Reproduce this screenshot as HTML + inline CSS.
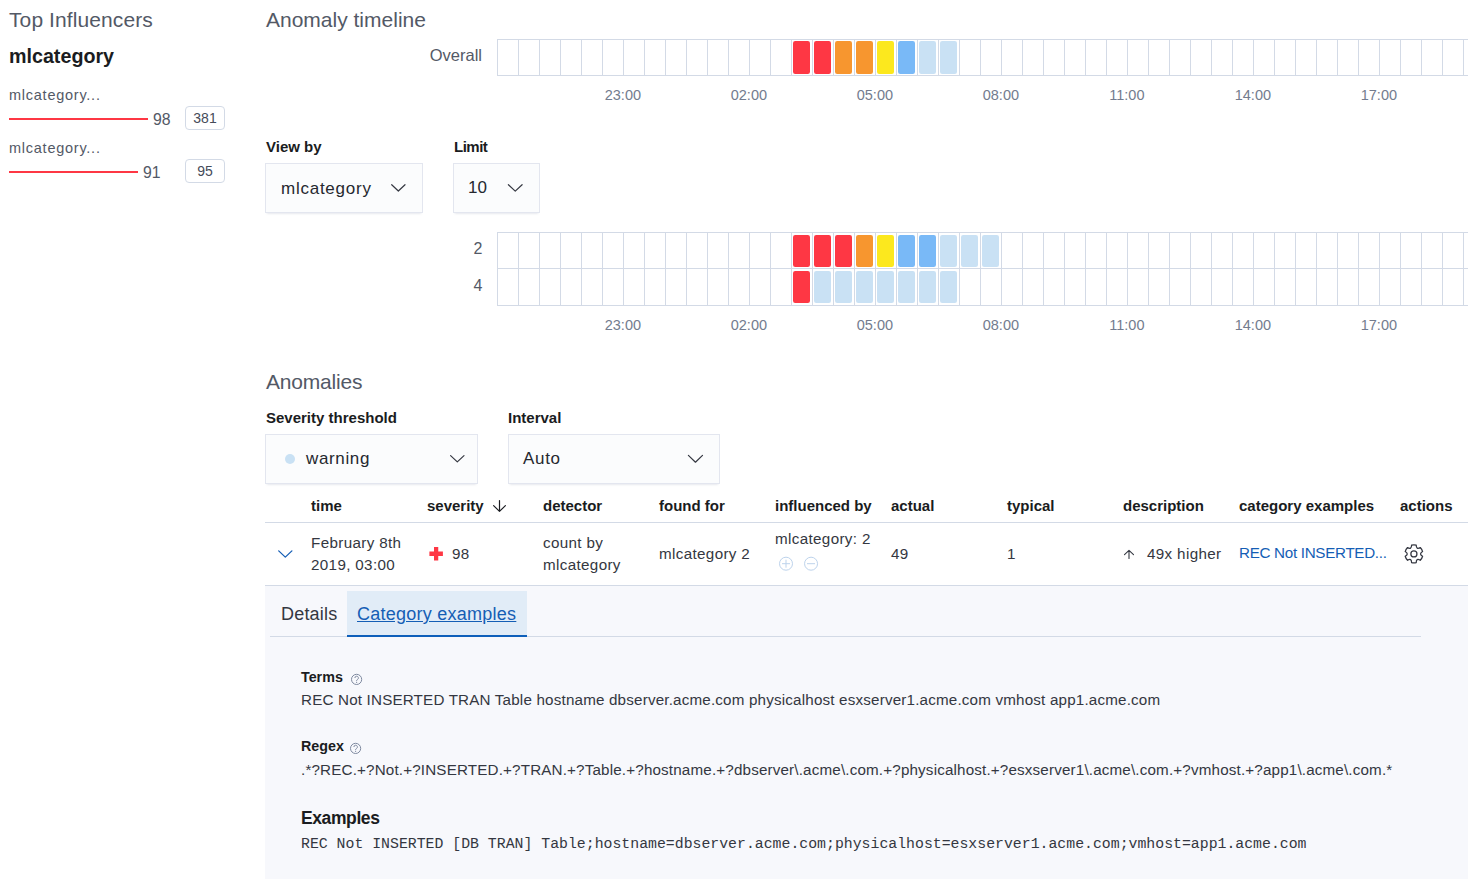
<!DOCTYPE html>
<html><head><meta charset="utf-8">
<style>
*{box-sizing:border-box;margin:0;padding:0}
html,body{width:1468px;height:879px;overflow:hidden;background:#fff}
body{position:relative;font-family:"Liberation Sans",Arial,sans-serif;color:#343741;font-size:14px;line-height:1}
.a{position:absolute;white-space:nowrap}
.title{font-size:21px;color:#535966;font-weight:400}
.bold{font-weight:700;color:#1a1c21}
.lbl{font-size:15px;font-weight:700;color:#1a1c21}
.axis{font-size:14.5px;color:#737C8E}
.sel{position:absolute;background:#FBFCFD;box-shadow:0 1px 1px -1px rgba(152,162,179,.2),0 3px 2px -2px rgba(152,162,179,.2),inset 0 0 0 1px rgba(15,39,118,.1);font-size:17px;color:#25282F}
.sel span{position:absolute}
.chev{position:absolute}
.badge{position:absolute;border:1px solid #D3DAE6;border-radius:4px;background:#fff;font-size:14px;text-align:center;color:#454B59}
.th{position:absolute;top:498px;font-weight:700;color:#1a1c21;font-size:15px}
.td{position:absolute;font-size:15.2px;color:#343741;line-height:22px;letter-spacing:.35px}
</style></head><body>
<!-- left panel -->
<div class="a title" style="left:9px;top:9px;letter-spacing:.1px">Top Influencers</div>
<div class="a bold" style="left:9px;top:47px;font-size:19.7px">mlcategory</div>
<div class="a" style="left:9px;top:88px;font-size:14.5px;letter-spacing:.75px;color:#535966">mlcategory...</div>
<div class="a" style="left:9px;top:118px;width:139px;height:2px;background:#FE3744"></div>
<div class="a" style="left:153px;top:112px;font-size:15.8px;color:#535966">98</div>
<div class="badge" style="left:185px;top:106px;width:40px;height:24px;line-height:22px">381</div>
<div class="a" style="left:9px;top:141px;font-size:14.5px;letter-spacing:.75px;color:#535966">mlcategory...</div>
<div class="a" style="left:9px;top:171px;width:129px;height:2px;background:#FE3744"></div>
<div class="a" style="left:143px;top:165px;font-size:15.8px;color:#535966">91</div>
<div class="badge" style="left:185px;top:159px;width:40px;height:24px;line-height:22px">95</div>

<!-- anomaly timeline -->
<div class="a title" style="left:266px;top:9px">Anomaly timeline</div>
<div class="a" style="right:986px;top:47px;font-size:16.5px;color:#535966">Overall</div>
<svg class="hm" style="position:absolute;left:497px;top:39px" width="971" height="37" viewBox="497 39 971 37">
<rect x="793.0" y="41" width="17" height="33" rx="2.2" fill="#FE3744"/>
<rect x="814.0" y="41" width="17" height="33" rx="2.2" fill="#FE3744"/>
<rect x="835.0" y="41" width="17" height="33" rx="2.2" fill="#F7962F"/>
<rect x="856.0" y="41" width="17" height="33" rx="2.2" fill="#F7962F"/>
<rect x="877.0" y="41" width="17" height="33" rx="2.2" fill="#FCE81E"/>
<rect x="898.0" y="41" width="17" height="33" rx="2.2" fill="#79B9F7"/>
<rect x="919.0" y="41" width="17" height="33" rx="2.2" fill="#C9E1F4"/>
<rect x="940.0" y="41" width="17" height="33" rx="2.2" fill="#C9E1F4"/>
<line x1="497" x2="1468" y1="39.5" y2="39.5" stroke="#D3DAE6"/>
<line x1="497" x2="1468" y1="75.5" y2="75.5" stroke="#D3DAE6"/>
<line x1="497.5" x2="497.5" y1="39.5" y2="75.5" stroke="#D3DAE6"/>
<line x1="518.5" x2="518.5" y1="39.5" y2="75.5" stroke="#D3DAE6"/>
<line x1="539.5" x2="539.5" y1="39.5" y2="75.5" stroke="#D3DAE6"/>
<line x1="560.5" x2="560.5" y1="39.5" y2="75.5" stroke="#D3DAE6"/>
<line x1="581.5" x2="581.5" y1="39.5" y2="75.5" stroke="#D3DAE6"/>
<line x1="602.5" x2="602.5" y1="39.5" y2="75.5" stroke="#D3DAE6"/>
<line x1="623.5" x2="623.5" y1="39.5" y2="75.5" stroke="#D3DAE6"/>
<line x1="644.5" x2="644.5" y1="39.5" y2="75.5" stroke="#D3DAE6"/>
<line x1="665.5" x2="665.5" y1="39.5" y2="75.5" stroke="#D3DAE6"/>
<line x1="686.5" x2="686.5" y1="39.5" y2="75.5" stroke="#D3DAE6"/>
<line x1="707.5" x2="707.5" y1="39.5" y2="75.5" stroke="#D3DAE6"/>
<line x1="728.5" x2="728.5" y1="39.5" y2="75.5" stroke="#D3DAE6"/>
<line x1="749.5" x2="749.5" y1="39.5" y2="75.5" stroke="#D3DAE6"/>
<line x1="770.5" x2="770.5" y1="39.5" y2="75.5" stroke="#D3DAE6"/>
<line x1="791.5" x2="791.5" y1="39.5" y2="75.5" stroke="#D3DAE6"/>
<line x1="812.5" x2="812.5" y1="39.5" y2="75.5" stroke="#D3DAE6"/>
<line x1="833.5" x2="833.5" y1="39.5" y2="75.5" stroke="#D3DAE6"/>
<line x1="854.5" x2="854.5" y1="39.5" y2="75.5" stroke="#D3DAE6"/>
<line x1="875.5" x2="875.5" y1="39.5" y2="75.5" stroke="#D3DAE6"/>
<line x1="896.5" x2="896.5" y1="39.5" y2="75.5" stroke="#D3DAE6"/>
<line x1="917.5" x2="917.5" y1="39.5" y2="75.5" stroke="#D3DAE6"/>
<line x1="938.5" x2="938.5" y1="39.5" y2="75.5" stroke="#D3DAE6"/>
<line x1="959.5" x2="959.5" y1="39.5" y2="75.5" stroke="#D3DAE6"/>
<line x1="980.5" x2="980.5" y1="39.5" y2="75.5" stroke="#D3DAE6"/>
<line x1="1001.5" x2="1001.5" y1="39.5" y2="75.5" stroke="#D3DAE6"/>
<line x1="1022.5" x2="1022.5" y1="39.5" y2="75.5" stroke="#D3DAE6"/>
<line x1="1043.5" x2="1043.5" y1="39.5" y2="75.5" stroke="#D3DAE6"/>
<line x1="1064.5" x2="1064.5" y1="39.5" y2="75.5" stroke="#D3DAE6"/>
<line x1="1085.5" x2="1085.5" y1="39.5" y2="75.5" stroke="#D3DAE6"/>
<line x1="1106.5" x2="1106.5" y1="39.5" y2="75.5" stroke="#D3DAE6"/>
<line x1="1127.5" x2="1127.5" y1="39.5" y2="75.5" stroke="#D3DAE6"/>
<line x1="1148.5" x2="1148.5" y1="39.5" y2="75.5" stroke="#D3DAE6"/>
<line x1="1169.5" x2="1169.5" y1="39.5" y2="75.5" stroke="#D3DAE6"/>
<line x1="1190.5" x2="1190.5" y1="39.5" y2="75.5" stroke="#D3DAE6"/>
<line x1="1211.5" x2="1211.5" y1="39.5" y2="75.5" stroke="#D3DAE6"/>
<line x1="1232.5" x2="1232.5" y1="39.5" y2="75.5" stroke="#D3DAE6"/>
<line x1="1253.5" x2="1253.5" y1="39.5" y2="75.5" stroke="#D3DAE6"/>
<line x1="1274.5" x2="1274.5" y1="39.5" y2="75.5" stroke="#D3DAE6"/>
<line x1="1295.5" x2="1295.5" y1="39.5" y2="75.5" stroke="#D3DAE6"/>
<line x1="1316.5" x2="1316.5" y1="39.5" y2="75.5" stroke="#D3DAE6"/>
<line x1="1337.5" x2="1337.5" y1="39.5" y2="75.5" stroke="#D3DAE6"/>
<line x1="1358.5" x2="1358.5" y1="39.5" y2="75.5" stroke="#D3DAE6"/>
<line x1="1379.5" x2="1379.5" y1="39.5" y2="75.5" stroke="#D3DAE6"/>
<line x1="1400.5" x2="1400.5" y1="39.5" y2="75.5" stroke="#D3DAE6"/>
<line x1="1421.5" x2="1421.5" y1="39.5" y2="75.5" stroke="#D3DAE6"/>
<line x1="1442.5" x2="1442.5" y1="39.5" y2="75.5" stroke="#D3DAE6"/>
<line x1="1463.5" x2="1463.5" y1="39.5" y2="75.5" stroke="#D3DAE6"/>
<line x1="1484.5" x2="1484.5" y1="39.5" y2="75.5" stroke="#D3DAE6"/>
</svg>
<div class="a axis" style="left:592.9px;top:88px;width:60px;text-align:center">23:00</div>
<div class="a axis" style="left:718.9px;top:88px;width:60px;text-align:center">02:00</div>
<div class="a axis" style="left:844.9px;top:88px;width:60px;text-align:center">05:00</div>
<div class="a axis" style="left:970.9px;top:88px;width:60px;text-align:center">08:00</div>
<div class="a axis" style="left:1096.9px;top:88px;width:60px;text-align:center">11:00</div>
<div class="a axis" style="left:1222.9px;top:88px;width:60px;text-align:center">14:00</div>
<div class="a axis" style="left:1348.9px;top:88px;width:60px;text-align:center">17:00</div>

<div class="a lbl" style="left:266px;top:139px">View by</div>
<div class="sel" style="left:265px;top:163px;width:158px;height:50px"><span style="left:16px;top:17px;letter-spacing:.75px">mlcategory</span></div>
<div class="a lbl" style="left:454px;top:139px;letter-spacing:-.5px">Limit</div>
<div class="sel" style="left:453px;top:163px;width:87px;height:50px"><span style="left:15px;top:16px">10</span></div>

<div class="a" style="left:473.5px;top:241px;font-size:16px;color:#535966">2</div>
<div class="a" style="left:473.5px;top:278px;font-size:16px;color:#535966">4</div>
<svg class="hm" style="position:absolute;left:497px;top:232px" width="971" height="74" viewBox="497 232 971 74">
<rect x="793.0" y="235" width="17" height="32" rx="2.2" fill="#FE3744"/>
<rect x="814.0" y="235" width="17" height="32" rx="2.2" fill="#FE3744"/>
<rect x="835.0" y="235" width="17" height="32" rx="2.2" fill="#FE3744"/>
<rect x="856.0" y="235" width="17" height="32" rx="2.2" fill="#F7962F"/>
<rect x="877.0" y="235" width="17" height="32" rx="2.2" fill="#FCE81E"/>
<rect x="898.0" y="235" width="17" height="32" rx="2.2" fill="#79B9F7"/>
<rect x="919.0" y="235" width="17" height="32" rx="2.2" fill="#79B9F7"/>
<rect x="940.0" y="235" width="17" height="32" rx="2.2" fill="#C9E1F4"/>
<rect x="961.0" y="235" width="17" height="32" rx="2.2" fill="#C9E1F4"/>
<rect x="982.0" y="235" width="17" height="32" rx="2.2" fill="#C9E1F4"/>
<rect x="793.0" y="271" width="17" height="32" rx="2.2" fill="#FE3744"/>
<rect x="814.0" y="271" width="17" height="32" rx="2.2" fill="#C9E1F4"/>
<rect x="835.0" y="271" width="17" height="32" rx="2.2" fill="#C9E1F4"/>
<rect x="856.0" y="271" width="17" height="32" rx="2.2" fill="#C9E1F4"/>
<rect x="877.0" y="271" width="17" height="32" rx="2.2" fill="#C9E1F4"/>
<rect x="898.0" y="271" width="17" height="32" rx="2.2" fill="#C9E1F4"/>
<rect x="919.0" y="271" width="17" height="32" rx="2.2" fill="#C9E1F4"/>
<rect x="940.0" y="271" width="17" height="32" rx="2.2" fill="#C9E1F4"/>
<line x1="497" x2="1468" y1="232.5" y2="232.5" stroke="#D3DAE6"/>
<line x1="497" x2="1468" y1="268.5" y2="268.5" stroke="#D3DAE6"/>
<line x1="497" x2="1468" y1="305.5" y2="305.5" stroke="#D3DAE6"/>
<line x1="497.5" x2="497.5" y1="232.5" y2="305.5" stroke="#D3DAE6"/>
<line x1="518.5" x2="518.5" y1="232.5" y2="305.5" stroke="#D3DAE6"/>
<line x1="539.5" x2="539.5" y1="232.5" y2="305.5" stroke="#D3DAE6"/>
<line x1="560.5" x2="560.5" y1="232.5" y2="305.5" stroke="#D3DAE6"/>
<line x1="581.5" x2="581.5" y1="232.5" y2="305.5" stroke="#D3DAE6"/>
<line x1="602.5" x2="602.5" y1="232.5" y2="305.5" stroke="#D3DAE6"/>
<line x1="623.5" x2="623.5" y1="232.5" y2="305.5" stroke="#D3DAE6"/>
<line x1="644.5" x2="644.5" y1="232.5" y2="305.5" stroke="#D3DAE6"/>
<line x1="665.5" x2="665.5" y1="232.5" y2="305.5" stroke="#D3DAE6"/>
<line x1="686.5" x2="686.5" y1="232.5" y2="305.5" stroke="#D3DAE6"/>
<line x1="707.5" x2="707.5" y1="232.5" y2="305.5" stroke="#D3DAE6"/>
<line x1="728.5" x2="728.5" y1="232.5" y2="305.5" stroke="#D3DAE6"/>
<line x1="749.5" x2="749.5" y1="232.5" y2="305.5" stroke="#D3DAE6"/>
<line x1="770.5" x2="770.5" y1="232.5" y2="305.5" stroke="#D3DAE6"/>
<line x1="791.5" x2="791.5" y1="232.5" y2="305.5" stroke="#D3DAE6"/>
<line x1="812.5" x2="812.5" y1="232.5" y2="305.5" stroke="#D3DAE6"/>
<line x1="833.5" x2="833.5" y1="232.5" y2="305.5" stroke="#D3DAE6"/>
<line x1="854.5" x2="854.5" y1="232.5" y2="305.5" stroke="#D3DAE6"/>
<line x1="875.5" x2="875.5" y1="232.5" y2="305.5" stroke="#D3DAE6"/>
<line x1="896.5" x2="896.5" y1="232.5" y2="305.5" stroke="#D3DAE6"/>
<line x1="917.5" x2="917.5" y1="232.5" y2="305.5" stroke="#D3DAE6"/>
<line x1="938.5" x2="938.5" y1="232.5" y2="305.5" stroke="#D3DAE6"/>
<line x1="959.5" x2="959.5" y1="232.5" y2="305.5" stroke="#D3DAE6"/>
<line x1="980.5" x2="980.5" y1="232.5" y2="305.5" stroke="#D3DAE6"/>
<line x1="1001.5" x2="1001.5" y1="232.5" y2="305.5" stroke="#D3DAE6"/>
<line x1="1022.5" x2="1022.5" y1="232.5" y2="305.5" stroke="#D3DAE6"/>
<line x1="1043.5" x2="1043.5" y1="232.5" y2="305.5" stroke="#D3DAE6"/>
<line x1="1064.5" x2="1064.5" y1="232.5" y2="305.5" stroke="#D3DAE6"/>
<line x1="1085.5" x2="1085.5" y1="232.5" y2="305.5" stroke="#D3DAE6"/>
<line x1="1106.5" x2="1106.5" y1="232.5" y2="305.5" stroke="#D3DAE6"/>
<line x1="1127.5" x2="1127.5" y1="232.5" y2="305.5" stroke="#D3DAE6"/>
<line x1="1148.5" x2="1148.5" y1="232.5" y2="305.5" stroke="#D3DAE6"/>
<line x1="1169.5" x2="1169.5" y1="232.5" y2="305.5" stroke="#D3DAE6"/>
<line x1="1190.5" x2="1190.5" y1="232.5" y2="305.5" stroke="#D3DAE6"/>
<line x1="1211.5" x2="1211.5" y1="232.5" y2="305.5" stroke="#D3DAE6"/>
<line x1="1232.5" x2="1232.5" y1="232.5" y2="305.5" stroke="#D3DAE6"/>
<line x1="1253.5" x2="1253.5" y1="232.5" y2="305.5" stroke="#D3DAE6"/>
<line x1="1274.5" x2="1274.5" y1="232.5" y2="305.5" stroke="#D3DAE6"/>
<line x1="1295.5" x2="1295.5" y1="232.5" y2="305.5" stroke="#D3DAE6"/>
<line x1="1316.5" x2="1316.5" y1="232.5" y2="305.5" stroke="#D3DAE6"/>
<line x1="1337.5" x2="1337.5" y1="232.5" y2="305.5" stroke="#D3DAE6"/>
<line x1="1358.5" x2="1358.5" y1="232.5" y2="305.5" stroke="#D3DAE6"/>
<line x1="1379.5" x2="1379.5" y1="232.5" y2="305.5" stroke="#D3DAE6"/>
<line x1="1400.5" x2="1400.5" y1="232.5" y2="305.5" stroke="#D3DAE6"/>
<line x1="1421.5" x2="1421.5" y1="232.5" y2="305.5" stroke="#D3DAE6"/>
<line x1="1442.5" x2="1442.5" y1="232.5" y2="305.5" stroke="#D3DAE6"/>
<line x1="1463.5" x2="1463.5" y1="232.5" y2="305.5" stroke="#D3DAE6"/>
<line x1="1484.5" x2="1484.5" y1="232.5" y2="305.5" stroke="#D3DAE6"/>
</svg>
<div class="a axis" style="left:592.9px;top:317.5px;width:60px;text-align:center">23:00</div>
<div class="a axis" style="left:718.9px;top:317.5px;width:60px;text-align:center">02:00</div>
<div class="a axis" style="left:844.9px;top:317.5px;width:60px;text-align:center">05:00</div>
<div class="a axis" style="left:970.9px;top:317.5px;width:60px;text-align:center">08:00</div>
<div class="a axis" style="left:1096.9px;top:317.5px;width:60px;text-align:center">11:00</div>
<div class="a axis" style="left:1222.9px;top:317.5px;width:60px;text-align:center">14:00</div>
<div class="a axis" style="left:1348.9px;top:317.5px;width:60px;text-align:center">17:00</div>

<!-- anomalies -->
<div class="a title" style="left:266px;top:371px;letter-spacing:-.2px">Anomalies</div>
<div class="a lbl" style="left:266px;top:410px">Severity threshold</div>
<div class="sel" style="left:265px;top:434px;width:213px;height:50px">
<span style="left:20px;top:19.7px;width:10px;height:10px;border-radius:50%;background:#C9E1F4"></span>
<span style="left:41px;top:16px;letter-spacing:.65px">warning</span></div>
<div class="a lbl" style="left:508px;top:410px">Interval</div>
<div class="sel" style="left:508px;top:434px;width:212px;height:50px"><span style="left:15px;top:16px;letter-spacing:.7px">Auto</span></div>

<!-- table -->
<div class="th" style="left:311px">time</div>
<div class="th" style="left:427px">severity</div>

<div class="th" style="left:543px">detector</div>
<div class="th" style="left:659px">found for</div>
<div class="th" style="left:775px">influenced by</div>
<div class="th" style="left:891px">actual</div>
<div class="th" style="left:1007px">typical</div>
<div class="th" style="left:1123px">description</div>
<div class="th" style="left:1239px">category examples</div>
<div class="th" style="left:1400px">actions</div>
<div class="a" style="left:265px;top:522px;width:1203px;height:1px;background:#D3DAE6"></div>


<div class="td" style="left:311px;top:532px">February 8th<br>2019, 03:00</div>

<div class="td" style="left:452px;top:543px">98</div>
<div class="td" style="left:543px;top:532px">count by<br>mlcategory</div>
<div class="td" style="left:659px;top:543px">mlcategory 2</div>
<div class="td" style="left:775px;top:528px">mlcategory: 2</div>

<div class="td" style="left:891px;top:543px">49</div>
<div class="td" style="left:1007px;top:543px">1</div>

<div class="td" style="left:1147px;top:543px">49x higher</div>
<div class="td" style="left:1239px;top:542px;color:#155EB5;letter-spacing:-.3px">REC Not INSERTED...</div>
<div class="a" style="left:265px;top:585px;width:1203px;height:1px;background:#D3DAE6"></div>

<!-- expanded -->
<div class="a" style="left:265px;top:586px;width:1203px;height:293px;background:#F7F8FC"></div>
<div class="a" style="left:347px;top:591px;width:180px;height:45px;background:#E1ECF7"></div>
<div class="a" style="left:270px;top:636px;width:1151px;height:1px;background:#D3DAE6"></div>
<div class="a" style="left:347px;top:635px;width:180px;height:2px;background:#0E5FBA"></div>
<div class="a" style="left:281px;top:605px;font-size:18px;letter-spacing:.2px;color:#343741">Details</div>
<div class="a" style="left:357px;top:605px;font-size:18px;letter-spacing:.25px;color:#155EB5;text-decoration:underline">Category examples</div>

<div class="a" style="left:301px;top:670px;font-size:14.3px;font-weight:700;color:#1a1c21">Terms</div>

<div class="a" style="left:301px;top:692px;font-size:15.2px;letter-spacing:.18px;color:#343741">REC Not INSERTED TRAN Table hostname dbserver.acme.com physicalhost esxserver1.acme.com vmhost app1.acme.com</div>
<div class="a" style="left:301px;top:739px;font-size:14.3px;font-weight:700;color:#1a1c21">Regex</div>

<div class="a" style="left:301px;top:762px;font-size:15.2px;letter-spacing:.165px;color:#343741">.*?REC.+?Not.+?INSERTED.+?TRAN.+?Table.+?hostname.+?dbserver\.acme\.com.+?physicalhost.+?esxserver1\.acme\.com.+?vmhost.+?app1\.acme\.com.*</div>
<div class="a" style="left:301px;top:810px;font-size:17.5px;letter-spacing:-.4px;font-weight:700;color:#1a1c21">Examples</div>
<div class="a" style="left:301px;top:837px;font-size:14.83px;font-family:'Liberation Mono',monospace;color:#343741">REC Not INSERTED [DB TRAN] Table;hostname=dbserver.acme.com;physicalhost=esxserver1.acme.com;vmhost=app1.acme.com</div>
<svg class="a" style="left:0;top:0" width="1468" height="879" viewBox="0 0 1468 879">
<g fill="none" stroke="#343741" stroke-width="1.2" stroke-linecap="round" stroke-linejoin="round">
<path d="M391.7 184.7 L398.35 191 L405 184.7"/>
<path d="M508.4 184.7 L515.25 191.1 L522.1 184.7"/>
<path d="M450.6 455.6 L457.3 461.9 L464 455.6"/>
<path d="M688.4 455.4 L695.45 462.2 L702.5 455.4"/>
<path d="M499.5 500.6 V511.3 M493.6 505.6 L499.5 511.4 L505.4 505.6" stroke="#1a1c21"/>
<path d="M1129 551 V558.5 M1124.5 554.6 L1129 550.4 L1133.5 554.6" stroke-width="1.1"/>
</g>
<path d="M278.7 550.9 L285.3 557.1 L291.9 550.9" fill="none" stroke="#155EB5" stroke-width="1.3" stroke-linecap="round" stroke-linejoin="round"/>
<path d="M434 547.1h4.25v4.5h4.65v4.3h-4.65v4.7h-4.25v-4.7h-4.6v-4.3h4.6z" fill="#FE3744"/>
<g fill="none" stroke="#BDD3EC" stroke-width="1"><circle cx="786" cy="563.7" r="6.5"/><path d="M782 563.7h8M786 559.7v8"/><circle cx="811.05" cy="563.7" r="6.5"/><path d="M807 563.7h8"/></g>
<path d="M1411.57 545.21 A9.0 9.0 0 0 1 1416.23 545.21 Q1416.20 549.92 1420.26 547.54 A9.0 9.0 0 0 1 1422.59 551.57 Q1418.50 553.90 1422.59 556.23 A9.0 9.0 0 0 1 1420.26 560.26 Q1416.20 557.88 1416.23 562.59 A9.0 9.0 0 0 1 1411.57 562.59 Q1411.60 557.88 1407.54 560.26 A9.0 9.0 0 0 1 1405.21 556.23 Q1409.30 553.90 1405.21 551.57 A9.0 9.0 0 0 1 1407.54 547.54 Q1411.60 549.92 1411.57 545.21 Z" fill="none" stroke="#343741" stroke-width="1.25" stroke-linejoin="round"/><circle cx="1413.9" cy="553.9" r="3.05" fill="none" stroke="#343741" stroke-width="1.25"/>
<g fill="none" stroke="#7F8AA0" stroke-width="1"><circle cx="356.6" cy="679.4" r="5.1"/><circle cx="355.6" cy="748.4" r="5.1"/>
<path d="M354.9 678.0a1.75 1.75 0 1 1 2.5 1.55c-.5.3-.8.6-.8 1.2v.35"/><path d="M353.9 747.0a1.75 1.75 0 1 1 2.5 1.55c-.5.3-.8.6-.8 1.2v.35"/></g>
<g fill="#7F8AA0"><circle cx="356.6" cy="682.3" r=".65"/><circle cx="355.6" cy="751.3" r=".65"/></g>
</svg>
</body></html>
